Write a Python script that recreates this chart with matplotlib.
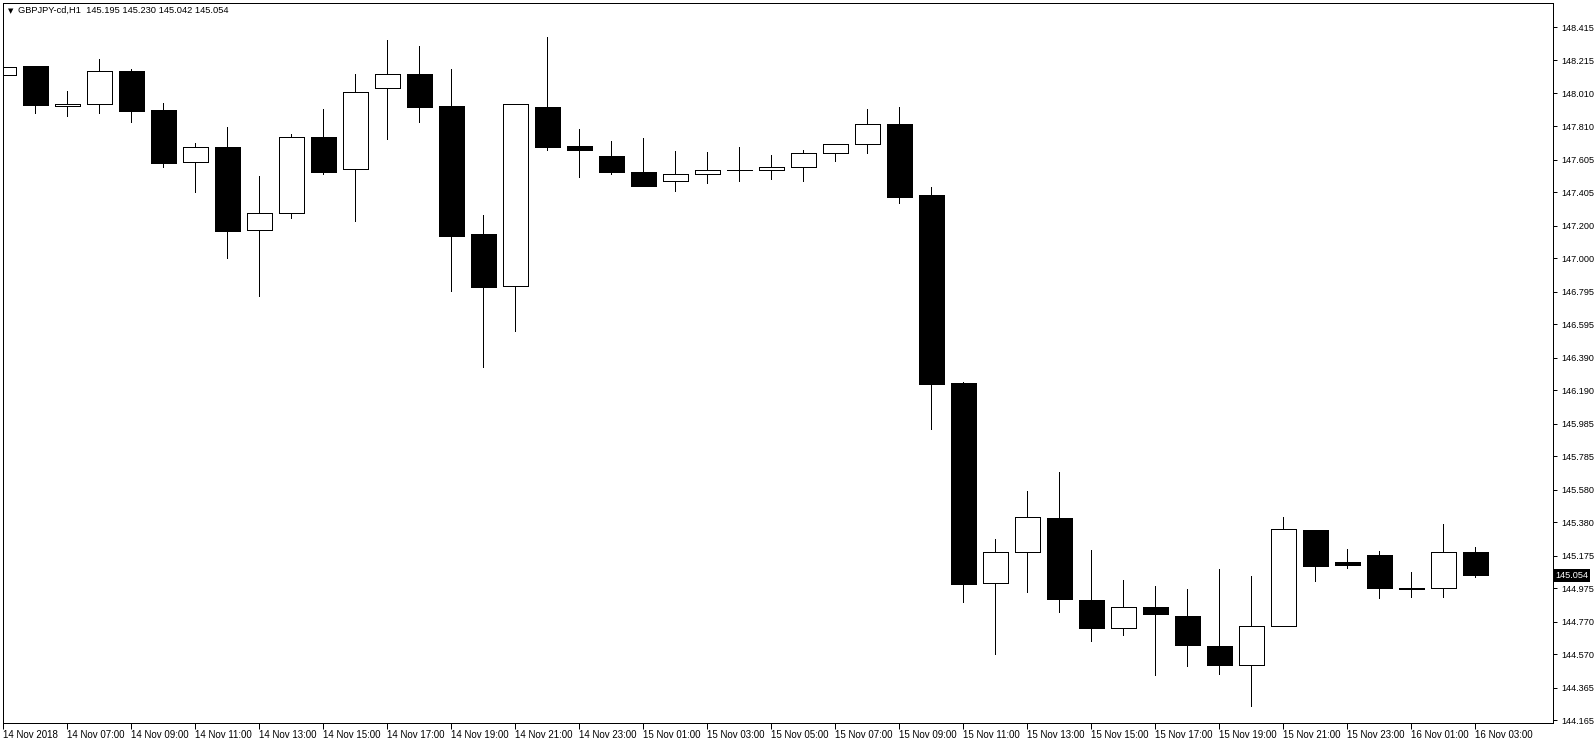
import matplotlib
matplotlib.use("Agg")
import matplotlib.pyplot as plt
import matplotlib.transforms as mtransforms

# GBPJPY H1 candles, 14 Nov 05:00 .. 16 Nov 03:00
opens = [148.121, 148.179, 147.932, 147.944, 148.148, 147.909, 147.589, 147.682,
         147.172, 147.276, 147.744, 147.546, 148.042, 148.130, 147.934, 147.149,
         146.828, 147.928, 147.688, 147.627, 147.529, 147.472, 147.515, 147.539,
         147.539, 147.558, 147.644, 147.699, 147.823, 147.388, 146.235, 145.007,
         145.197, 145.408, 144.905, 144.731, 144.860, 144.807, 144.623, 144.504,
         144.744, 145.334, 145.134, 145.181, 144.980, 144.977, 145.195]
highs = [148.246, 148.179, 148.026, 148.222, 148.161, 147.952, 147.707, 147.805,
         147.505, 147.762, 147.915, 148.130, 148.338, 148.302, 148.161, 147.265,
         147.944, 148.359, 147.793, 147.719, 147.738, 147.658, 147.652, 147.682,
         147.633, 147.664, 147.699, 147.915, 147.928, 147.437, 146.242, 145.279,
         145.573, 145.690, 145.211, 145.028, 144.991, 144.972, 145.095, 145.052,
         145.414, 145.334, 145.218, 145.205, 145.077, 145.371, 145.230]
lows = [148.079, 147.893, 147.874, 147.893, 147.837, 147.562, 147.408, 147.004,
        146.765, 147.249, 147.519, 147.230, 147.733, 147.837, 146.801, 146.330,
        146.556, 147.666, 147.500, 147.519, 147.445, 147.414, 147.463, 147.476,
        147.488, 147.476, 147.598, 147.647, 147.341, 145.955, 144.894, 144.570,
        144.950, 144.827, 144.655, 144.686, 144.441, 144.496, 144.447, 144.251,
        144.744, 145.017, 145.097, 144.913, 144.919, 144.919, 145.042]
closes = [148.173, 147.937, 147.946, 148.146, 147.905, 147.586, 147.681, 147.169,
          147.276, 147.742, 147.531, 148.018, 148.128, 147.929, 147.138, 146.826,
          147.944, 147.684, 147.666, 147.531, 147.445, 147.515, 147.541, 147.539,
          147.558, 147.644, 147.699, 147.822, 147.378, 146.231, 144.999, 145.197,
          145.414, 144.907, 144.729, 144.860, 144.815, 144.625, 144.502, 144.744,
          145.338, 145.115, 145.121, 144.974, 144.968, 145.197, 145.054]

time_labels = ["14 Nov 2018", "14 Nov 07:00", "14 Nov 09:00", "14 Nov 11:00",
               "14 Nov 13:00", "14 Nov 15:00", "14 Nov 17:00", "14 Nov 19:00",
               "14 Nov 21:00", "14 Nov 23:00", "15 Nov 01:00", "15 Nov 03:00",
               "15 Nov 05:00", "15 Nov 07:00", "15 Nov 09:00", "15 Nov 11:00",
               "15 Nov 13:00", "15 Nov 15:00", "15 Nov 17:00", "15 Nov 19:00",
               "15 Nov 21:00", "15 Nov 23:00", "16 Nov 01:00", "16 Nov 03:00"]
price_ticks = [148.415, 148.215, 148.010, 147.810, 147.605, 147.405, 147.200,
               147.000, 146.795, 146.595, 146.390, 146.190, 145.985, 145.785,
               145.580, 145.380, 145.175, 144.975, 144.770, 144.570, 144.365,
               144.165]

symbol = "GBPJPY-cd,H1"

W, H = 1596, 744
fig = plt.figure(figsize=(W / 100, H / 100), dpi=100)
ax = fig.add_axes([3 / W, 1 - 723 / H, 1550 / W, 720 / H])

px = 0.72  # one pixel in points
n = len(opens)
xs = list(range(n))

# wicks first, bodies on top
ax.vlines(xs, lows, highs, color="black", linewidth=px, zorder=1, antialiased=False)
for i in xs:
    o, c = opens[i], closes[i]
    face = "black" if c < o else "white"
    ax.bar(i, abs(c - o), bottom=min(o, c), width=0.77, facecolor=face,
           edgecolor="black", linewidth=px, zorder=2, antialiased=False)

ax.set_xlim(-0.01, 48.43)
ax.set_ylim(144.149, 148.565)

# price scale on the right
ax.yaxis.tick_right()
ax.set_yticks(price_ticks)
ax.set_yticklabels(["%.3f" % v for v in price_ticks])
ax.tick_params(axis="y", direction="out", length=3, width=px, pad=3,
               labelsize=6.6, labelfontfamily="Liberation Sans")

# time scale, one label per two bars
ax.set_xticks(xs[::2])
ax.set_xticklabels(time_labels, ha="left")
ax.tick_params(axis="x", direction="out", length=4, width=px, pad=1,
               labelsize=7, labelfontfamily="Liberation Sans")

for s in ax.spines.values():
    s.set_linewidth(px)
    s.set_color("black")

# current price tag
trans = mtransforms.blended_transform_factory(ax.transAxes, ax.transData)
ax.text(1.0018, closes[-1], "%.3f" % closes[-1], transform=trans, ha="left",
        va="center", color="white", fontsize=6.6, family="Liberation Sans",
        bbox=dict(boxstyle="square,pad=0.18", facecolor="black", edgecolor="none"))

# header
header = "%s  %.3f %.3f %.3f %.3f" % (symbol, opens[-1], highs[-1], lows[-1], closes[-1])
fig.text(7.5 / W, 1 - 11 / H, "\u25bc", fontsize=5, va="center", ha="left",
         family="DejaVu Sans")
fig.text(18 / W, 1 - 10.5 / H, header, fontsize=6.7, va="center", ha="left",
         family="Liberation Sans")

fig.savefig("out.png", dpi=100, facecolor="white")
